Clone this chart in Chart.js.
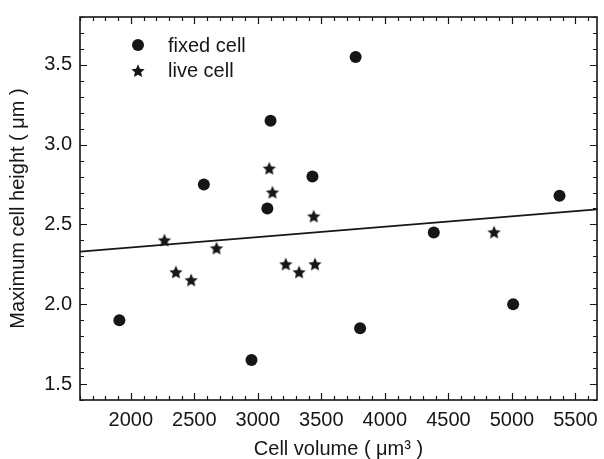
<!DOCTYPE html>
<html><head><meta charset="utf-8">
<script src="https://cdn.jsdelivr.net/npm/chart.js@4/dist/chart.umd.min.js"></script>
<style>html,body{margin:0;padding:0;background:#fff}#wrap{width:604px;height:459px}</style>
</head><body><div id="wrap"><canvas id="c" width="604" height="459"></canvas></div>
<script>
// ---- data ----
const fixedVolume = [1910, 2575, 2950, 3075, 3100, 3430, 3770, 3805, 4385, 5010, 5375];
const fixedHeight = [1.90, 2.75, 1.65, 2.60, 3.15, 2.80, 3.55, 1.85, 2.45, 2.00, 2.68];
const liveVolume  = [2265, 2355, 2475, 2675, 3090, 3115, 3220, 3325, 3440, 3450, 4860];
const liveHeight  = [2.40, 2.20, 2.15, 2.35, 2.85, 2.70, 2.25, 2.20, 2.55, 2.25, 2.45];
const fitVolume   = [1600, 5670];
const fitHeight   = [2.33, 2.595];
const xTickValues = [2000, 2500, 3000, 3500, 4000, 4500, 5000, 5500];
const yTickValues = [1.5, 2.0, 2.5, 3.0, 3.5];
const seriesNames = ['fixed cell', 'live cell'];
const xTitle = 'Cell volume ( \u03bcm\u00b3 )';
const yTitle = 'Maximum cell height ( \u03bcm )';

const FONT = "'Liberation Sans', Arial, Helvetica, sans-serif";
const INK = '#161616';

function makeStar(R) {
  const s = Math.ceil(R * 2) + 2;
  const c = document.createElement('canvas');
  c.width = s; c.height = s;
  const g = c.getContext('2d');
  g.fillStyle = INK;
  g.beginPath();
  const cx = s / 2, cy = s / 2 + R * 0.05, r = R * 0.47;
  for (let i = 0; i < 10; i++) {
    const a = -Math.PI / 2 + i * Math.PI / 5;
    const rr = (i % 2) ? r : R;
    g.lineTo(cx + rr * Math.cos(a), cy + rr * Math.sin(a));
  }
  g.closePath();
  g.fill();
  return c;
}
const starImg = makeStar(7);

const toPts = (xs, ys) => xs.map((x, i) => ({x: x, y: ys[i]}));

const framePlugin = {
  id: 'frame',
  afterDraw(chart) {
    const {ctx, chartArea: a} = chart;
    const xs = chart.scales.x, ys = chart.scales.y;
    ctx.save();
    ctx.strokeStyle = INK;
    ctx.lineWidth = 1.6;
    ctx.strokeRect(a.left, a.top, a.right - a.left, a.bottom - a.top);
    ctx.lineWidth = 1.2;
    ctx.beginPath();
    for (let v = Math.ceil(xs.min / 100) * 100; v <= xs.max; v += 100) {
      const p = Math.round(xs.getPixelForValue(v)) + 0.5;
      const len = (v % 500 === 0) ? 7 : 4;
      ctx.moveTo(p, a.bottom); ctx.lineTo(p, a.bottom - len);
      ctx.moveTo(p, a.top); ctx.lineTo(p, a.top + len);
    }
    for (let k = Math.ceil(ys.min * 10); k <= Math.floor(ys.max * 10); k++) {
      const p = Math.round(ys.getPixelForValue(k / 10)) + 0.5;
      const len = (k % 5 === 0) ? 7 : 4;
      ctx.moveTo(a.left, p); ctx.lineTo(a.left + len, p);
      ctx.moveTo(a.right, p); ctx.lineTo(a.right - len, p);
    }
    ctx.stroke();

    // legend inside the plot
    const ds = chart.data.datasets;
    const mx = a.left + 58;
    const rows = [{y: a.top + 28, base: a.top + 35}, {y: a.top + 54, base: a.top + 60}];
    ctx.fillStyle = INK;
    ctx.font = '20px ' + FONT;
    ctx.textBaseline = 'alphabetic';
    ctx.textAlign = 'left';
    rows.forEach((r, i) => {
      const st = ds[i].pointStyle;
      if (st === 'circle') {
        ctx.beginPath(); ctx.arc(mx, r.y, ds[i].pointRadius, 0, Math.PI * 2); ctx.fill();
      } else {
        ctx.drawImage(st, mx - st.width / 2, r.y - st.height / 2);
      }
      ctx.fillText(ds[i].label, mx + 30, r.base);
    });
    ctx.restore();
  }
};

new Chart(document.getElementById('c'), {
  data: {
    datasets: [
      {type: 'scatter', label: seriesNames[0], data: toPts(fixedVolume, fixedHeight),
       pointStyle: 'circle', pointRadius: 6, pointBackgroundColor: INK, pointBorderWidth: 0, order: 1},
      {type: 'scatter', label: seriesNames[1], data: toPts(liveVolume, liveHeight),
       pointStyle: starImg, pointRadius: 7, pointBackgroundColor: INK, pointBorderWidth: 0, order: 2},
      {type: 'line', label: 'fit', data: toPts(fitVolume, fitHeight),
       borderColor: INK, borderWidth: 1.8, pointRadius: 0, fill: false, tension: 0, order: 3}
    ]
  },
  options: {
    responsive: false,
    animation: false,
    devicePixelRatio: 1,
    layout: {padding: {top: 17, right: 4, left: 0, bottom: 0}},
    plugins: {legend: {display: false}, tooltip: {enabled: false}},
    scales: {
      x: {
        type: 'linear', min: 1600, max: 5670,
        afterBuildTicks: s => { s.ticks = xTickValues.map(v => ({value: v})); },
        afterFit: s => { s.height = 59; s.paddingLeft = 0; s.paddingRight = 0; },
        grid: {display: false, drawTicks: false},
        border: {display: false},
        ticks: {color: INK, font: {family: FONT, size: 20}, padding: 8, maxRotation: 0,
                callback: v => String(v)},
        title: {display: true, text: xTitle, color: INK,
                font: {family: FONT, size: 20, lineHeight: 1}, padding: {top: 0, bottom: 0}}
      },
      y: {
        type: 'linear', min: 1.4, max: 3.8,
        afterBuildTicks: s => { s.ticks = yTickValues.map(v => ({value: v})); },
        afterFit: s => { s.width = 80; s.paddingTop = 0; s.paddingBottom = 0; },
        grid: {display: false, drawTicks: false},
        border: {display: false},
        ticks: {color: INK, font: {family: FONT, size: 20}, padding: 8,
                callback: v => Number(v).toFixed(1)},
        title: {display: true, text: yTitle, color: INK,
                font: {family: FONT, size: 20, lineHeight: 1.2}, padding: {top: 6, bottom: 0}}
      }
    }
  },
  plugins: [framePlugin]
});
</script>
</body></html>
